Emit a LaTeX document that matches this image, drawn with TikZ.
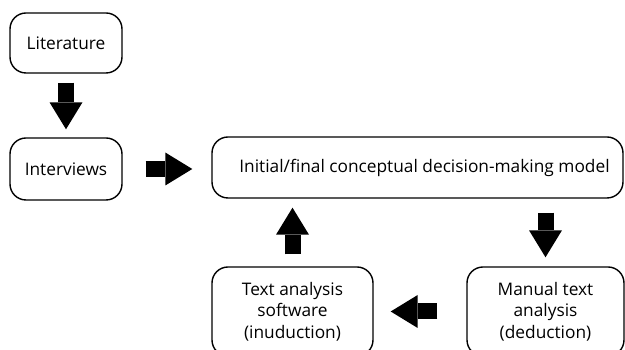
\documentclass[tikz,border=0pt]{standalone}
\usepackage{fontspec}
\setmainfont{Open Sans}
\usetikzlibrary{arrows.meta,calc}
\tikzset{
  box/.style={draw=black, line width=1.4pt, rounded corners=16pt, align=center,
    inner sep=0pt, font=\fontsize{17.3}{21.5}\selectfont},
  fat/.style={draw=black, line width=16pt, line cap=butt,
    -{Triangle[width=33pt, length=27pt, line width=0pt]}},
}
\begin{document}
\begin{tikzpicture}[x=1pt, y=1pt]
  \path[use as bounding box, clip] (0,0) rectangle (625,350);
  % boxes
  \node[box, minimum width=112pt, minimum height=60pt] (lit) at (66,307) {Literature};
  \node[box, minimum width=112pt, minimum height=62pt] (int) at (66,181) {Interviews};
  \node[box, minimum width=411pt, minimum height=61pt] (main) at (417.5,182.5)
    {\hspace*{14pt}Initial/final conceptual decision-making model};
  \node[box, minimum width=161pt, minimum height=89pt] (soft) at (292.5,38.5)
    {Text analysis\\software\\(inuduction)};
  \node[box, minimum width=157pt, minimum height=89pt] (man) at (545.5,38.5)
    {Manual text\\analysis\\(deduction)};
  % block arrows
  \draw[fat, shorten <=9pt, shorten >=8pt] (lit.south) -- (int.north);
  \draw[fat, shorten <=23pt, shorten >=19pt] (int.east) -- (int.east -| main.west);
  \draw[fat, shorten <=12pt, shorten >=9pt] (soft.north) -- (soft.north |- main.south);
  \draw[fat, shorten <=14pt, shorten >=9pt] (man.north |- main.south) -- (man.north);
  \draw[fat, shorten <=29pt, shorten >=17pt] (man.west) -- (soft.east);
\end{tikzpicture}
\end{document}
